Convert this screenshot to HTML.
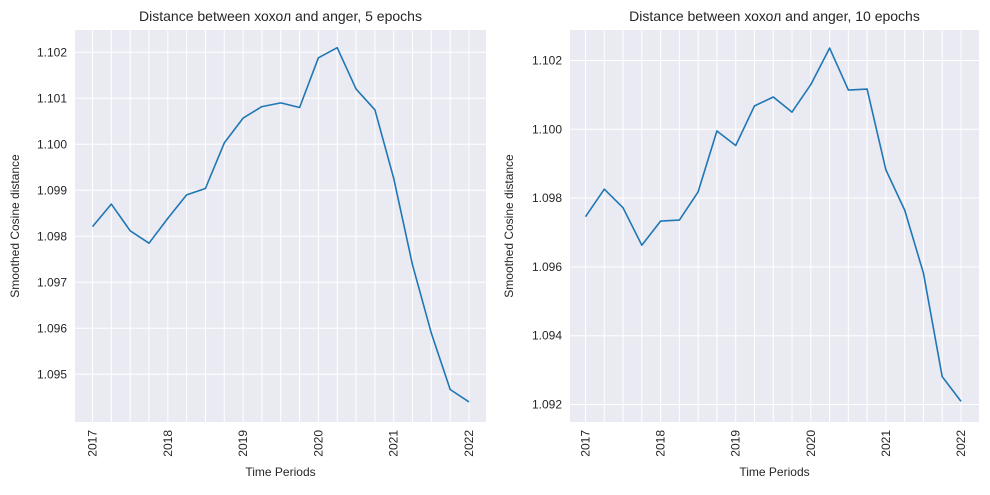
<!DOCTYPE html>
<html><head><meta charset="utf-8"><style>
body{margin:0;background:#fff;font-family:"Liberation Sans","DejaVu Sans",sans-serif;}
svg text{font-family:"Liberation Sans","DejaVu Sans",sans-serif;fill:#262626;}
</style></head><body>
<svg id="chart" width="990" height="490"></svg>
<script>
const years = [2017, 2018, 2019, 2020, 2021, 2022];
const leftValues = [1.09821,1.09870,1.09812,1.09785,1.09839,1.09890,1.09904,1.10003,1.10057,1.10082,1.10090,1.10080,1.10188,1.10210,1.10120,1.10075,1.09926,1.09738,1.09589,1.09467,1.09440];
const rightValues = [1.09746,1.09826,1.09772,1.09663,1.09733,1.09736,1.09818,1.09995,1.09953,1.10068,1.10094,1.10050,1.10130,1.10236,1.10114,1.10117,1.09882,1.09765,1.09581,1.09281,1.09209];
const leftTicks = [1.095,1.096,1.097,1.098,1.099,1.100,1.101,1.102];
const rightTicks = [1.092,1.094,1.096,1.098,1.100,1.102];

const NS = "http://www.w3.org/2000/svg";
const svg = document.getElementById('chart');
function mk(tag, attrs, parent){const e=document.createElementNS(NS,tag);for(const k in attrs)e.setAttribute(k,attrs[k]);(parent||svg).appendChild(e);return e;}

function panel(cfg){
  const g = mk('g',{});
  
  
  const {x0,x1,y0,y1,ymin,ymax,xFirst,xLast,vals,ticks,dec} = cfg;
  const n = vals.length;
  const xs = i => xFirst + i*(xLast-xFirst)/(n-1);
  const xy = yr => xFirst + (yr-years[0])*(xLast-xFirst)/(years[years.length-1]-years[0]);
  const ys = v => y1 - (v-ymin)/(ymax-ymin)*(y1-y0);
  const bg = mk('rect',{x:x0,y:y0,width:x1-x0,height:y1-y0,fill:'#eaeaf2'},g);
  
  
  ticks.forEach(t=>{
    const y=ys(t);
    const l = mk('line',{x1:x0,x2:x1,y1:y,y2:y,stroke:'#fff','stroke-width':1},g);
    
    
    const tx = mk('text',{x:x0-8,y:y+4,'text-anchor':'end','font-size':12},g);
    tx.textContent = t.toFixed(dec);
    
    
  });
  for(let i=0;i<n;i++){
    const x=xs(i);
    const l = mk('line',{x1:x,x2:x,y1:y0,y2:y1,stroke:'#fff','stroke-width':1},g);
    
    
  }
  years.forEach(yr=>{
    const x=xy(yr);
    const tx = mk('text',{x:0,y:0,'text-anchor':'end','font-size':12,transform:`translate(${x+4},${y1+8}) rotate(-90)`},g);
    tx.textContent = yr;
    
    
  });
  const pts = vals.map((v,i)=>xs(i).toFixed(1)+','+ys(v).toFixed(1)).join(' ');
  const line = mk('polyline',{points:pts,fill:'none',stroke:'#1f77b4','stroke-width':1.6,'stroke-linejoin':'round'},g);
  
  
  const title = mk('text',{x:(x0+x1)/2,y:y0-9,'text-anchor':'middle','font-size':14},g);
  title.textContent = cfg.title;
  
  
  const xl = mk('text',{x:(x0+x1)/2,y:476,'text-anchor':'middle','font-size':12},g);
  xl.textContent = 'Time Periods';
  
  
  const yl = mk('text',{x:0,y:0,'text-anchor':'middle','font-size':12,transform:`translate(${cfg.ylx},${(y0+y1)/2}) rotate(-90)`},g);
  yl.textContent = 'Smoothed Cosine distance';
  
  
}
panel({name:'left-panel',x0:75,x1:486,y0:30,y1:422,ymin:1.093963,ymax:1.102485,xFirst:92.5,xLast:469,vals:leftValues,ticks:leftTicks,dec:3,title:'Distance between хохол and anger, 5 epochs',ylx:19});
panel({name:'right-panel',x0:570,x1:979,y0:30,y1:422,ymin:1.091491,ymax:1.102887,xFirst:585.5,xLast:961,vals:rightValues,ticks:rightTicks,dec:3,title:'Distance between хохол and anger, 10 epochs',ylx:513});
</script>
</body></html>
